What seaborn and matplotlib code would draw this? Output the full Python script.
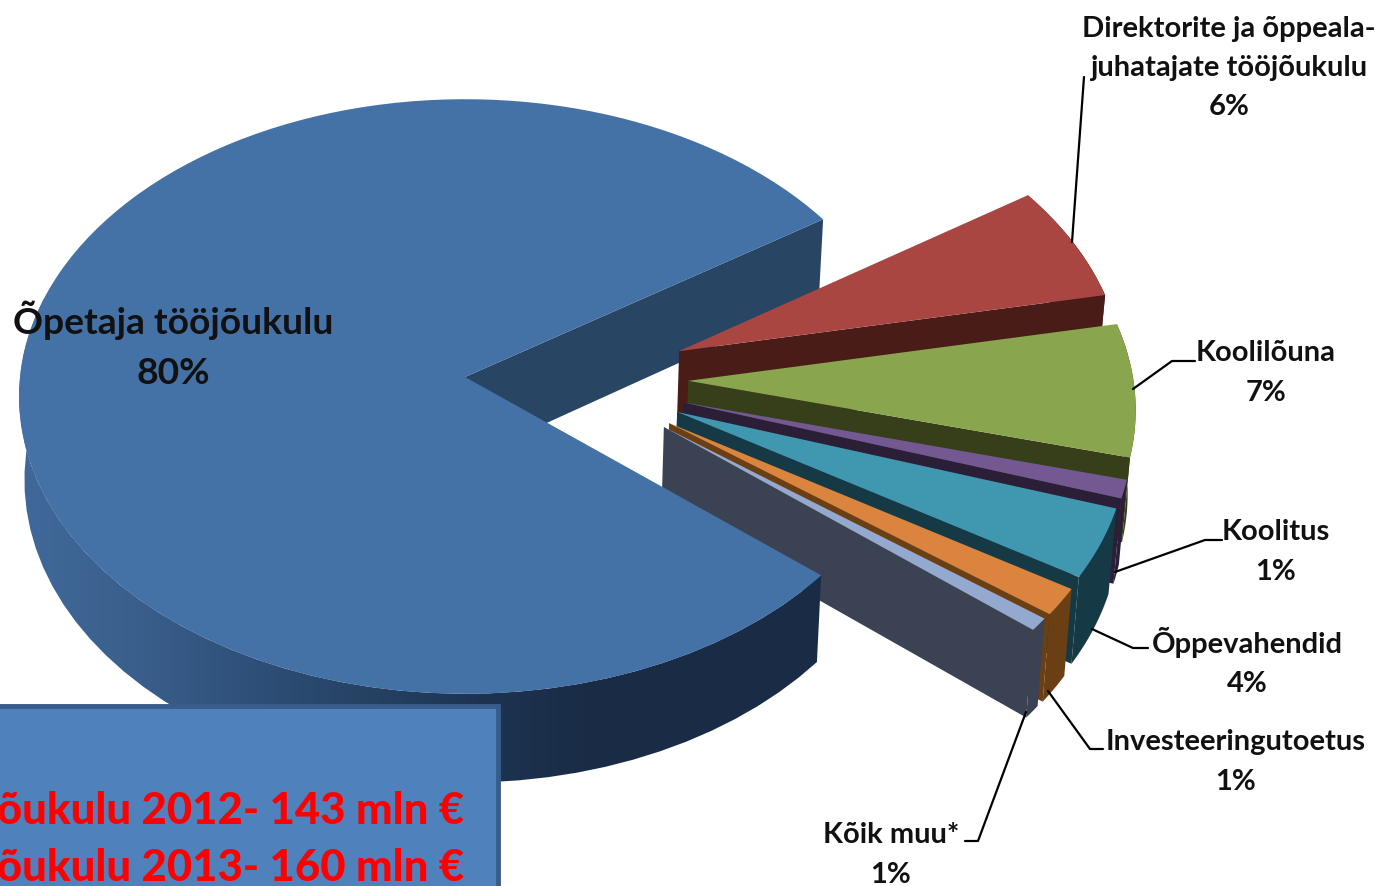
import numpy as np
import seaborn as sns
import matplotlib.pyplot as plt
from matplotlib.patches import Polygon, Rectangle
from matplotlib.transforms import Transform

# slice shares (labels round them)
slices = ["Õpetaja tööjõukulu", "Kõik muu*", "Investeeringutoetus", "Õppevahendid",
          "Koolitus", "Koolilõuna", "Direktorite ja õppeala-\njuhatajate tööjõukulu"]
shares = [79.6, 0.7, 1.5, 3.8, 1.0, 7.2, 6.2]
percent_labels = ["80%", "1%", "1%", "4%", "1%", "7%", "6%"]
box_lines = ["õukulu 2012- 143 mln €", "õukulu 2013- 160 mln €"]

top_colors = ["#4472A7", "#93A9D0", "#DB843D", "#4098B0", "#735892", "#89A64E", "#A94642"]
wall_colors = ["#284564", "#3A4254", "#6B3F14", "#163A45", "#2B1F38", "#363F1A", "#491C18"]
blue_wall = ["#40699A", "#3A5F8C", "#2E5079", "#264263", "#1D3451", "#1A2B45", "#1A2B45", "#1A2B45"]

# how far each slice is pulled out of the pie, in pie radii
pull_u = [0, 0.442, 0.454, 0.473, 0.487, 0.501, 0.484]
pull_v = [0, -0.167, -0.154, -0.117, -0.085, -0.013, 0.088]

# pie plane -> picture pixels
CX, CY, RX, RY, K, DEPTH, SHRINK = 465, 378, 445, 296, 0.0656, 83, 0.012


def project(u, v, z=0.0):
    w = 1 + K * np.asarray(v)
    x = CX + RX * np.asarray(u) / w * (1 - SHRINK * z)
    return x, CY - RY * np.asarray(v) / w + z * DEPTH / w


class TiltPlane(Transform):
    input_dims = output_dims = 2
    is_separable = False

    def transform_non_affine(self, values):
        x, y = project(values[:, 0], values[:, 1])
        return np.column_stack((x, y))


def extrude(u, v):
    xt, yt = project(u, v)
    xb, yb = project(u, v, 1)
    return np.column_stack((np.r_[xt, xb[::-1]], np.r_[yt, yb[::-1]]))


def arc_wall(center, theta1, theta2):
    t = np.radians(np.linspace(theta1, theta2, 80))
    return extrude(center[0] + np.cos(t), center[1] + np.sin(t))


def cut_wall(center, theta):
    t = np.radians(theta)
    return extrude(np.array([center[0], center[0] + np.cos(t)]),
                   np.array([center[1], center[1] + np.sin(t)]))


sns.set_theme(style="white")
plt.rcParams['font.family'] = ['Lato', 'DejaVu Sans']

fig = plt.figure(figsize=(13.8, 8.87), dpi=100)
ax = fig.add_axes([0, 0, 1, 1])

wedges, _ = ax.pie(shares, colors=top_colors, startangle=33.5, radius=1,
                   wedgeprops={'linewidth': 0})
ax.set_aspect('auto')

to_pixels = TiltPlane() + ax.transData
draw_order = [6, 5, 4, 3, 2, 1, 0]
for n, i in enumerate(draw_order):
    wedge = wedges[i]
    center = (pull_u[i], pull_v[i])
    wedge.set_center(center)
    wedge.set_transform(to_pixels)
    wedge.set_zorder(11 + 2 * n)
    wedge.set_clip_on(False)
    if i == 0:
        # back cut of the big slice sits behind everything else
        ax.add_patch(Polygon(cut_wall(center, wedge.theta1), fc=wall_colors[0], lw=0, zorder=5))
        wall = Polygon(arc_wall(center, wedge.theta1, wedge.theta2), transform=ax.transData, fc='none', lw=0)
        ax.add_patch(wall)
        cmap = sns.blend_palette(blue_wall, as_cmap=True)
        grad = ax.imshow(np.linspace(0, 1, 256)[None, :], extent=(18, 830, 800, 300),
                         cmap=cmap, aspect='auto', zorder=10 + 2 * n)
        grad.set_clip_path(wall)
    else:
        ax.add_patch(Polygon(arc_wall(center, wedge.theta1, wedge.theta2), fc=wall_colors[i],
                             lw=0, zorder=10 + 2 * n))
        ax.add_patch(Polygon(cut_wall(center, wedge.theta1), fc=wall_colors[i],
                             lw=0, zorder=10 + 2 * n))

ax.set_xlim(0, 1380)
ax.set_ylim(887, 0)
ax.axis('off')

# box over the lower left corner
ax.add_patch(Rectangle((-10, 707), 508, 200, fc="#4F81BD", ec="#385D8A", lw=3.5, zorder=30))
for line, y in zip(box_lines, [811, 868]):
    ax.text(464, y, line, color="#FF0000", fontsize=31.4, fontweight='black',
            ha='right', va='center', zorder=31)

# labels: (slice index, x, y of the block centre)
label_pos = {0: (173, 345), 6: (1229, 68), 5: (1266, 373), 4: (1276, 552),
             3: (1247, 662), 2: (1236, 762), 1: (891, 855)}
for i, (x, y) in label_pos.items():
    ax.text(x, y, slices[i] + "\n" + percent_labels[i], color="#111111",
            fontsize=26.8 if i == 0 else 21, fontweight='bold', ha='center', va='center',
            multialignment='center', linespacing=1.62, zorder=32)

leaders = [([1084, 1072], [78, 243]),
           ([1133, 1172, 1195], [390, 362, 362]),
           ([1115, 1205, 1222], [573, 541, 541]),
           ([1092, 1133, 1148], [630, 649, 649]),
           ([1048, 1090, 1103], [692, 750, 750]),
           ([1026, 978, 965], [713, 842, 842])]
for xs, ys in leaders:
    ax.plot(xs, ys, color="black", lw=1.6, zorder=25, solid_joinstyle='round')

fig.savefig("out.png", dpi=100)
